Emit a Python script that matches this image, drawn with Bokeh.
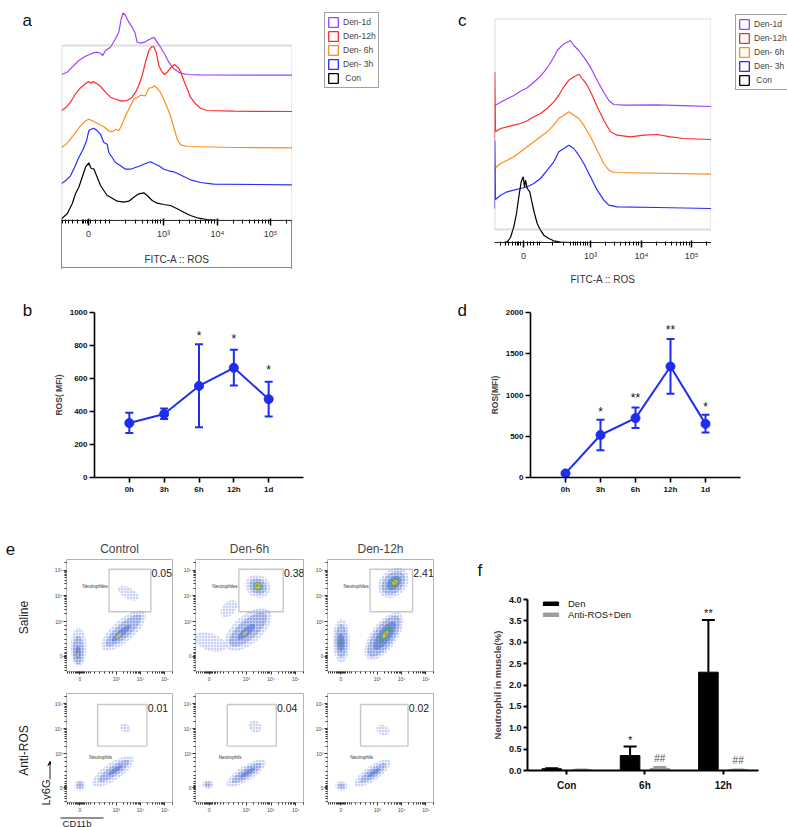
import numpy as np
from bokeh.plotting import figure
from bokeh.models import (ColumnDataSource, FixedTicker, Label, BoxAnnotation,
                          Legend, LegendItem, Range1d, Arrow, VeeHead, Whisker,
                          TeeHead, PrintfTickFormatter)
from bokeh.layouts import row, column
from bokeh.embed import file_html
from bokeh.resources import INLINE
from bokeh.core.properties import value

FONT = "Liberation Sans"

# ---------------- panel a : histograms (channel, height above own baseline) ----
A_NAMES = ["Den-1d", "Den-12h", "Den- 6h", "Den- 3h", " Con"]
A_1D_X = [0, 5.7, 10.7, 17.3, 24, 30.7, 35.7, 39, 41.3, 44, 49, 54, 57.3, 59.7, 61.7, 64, 67.3, 70.7, 73.3, 75.7,
          79, 83, 87.3, 92.3, 95.7, 99, 103, 107.3, 112.3, 119, 125.7, 139, 231]
A_1D_Y = [0, 2.3, 7.3, 14, 18.3, 21.3, 22.3, 21.3, 19, 24, 27.3, 35.7, 42.3, 55.7, 61.7, 59, 52.3, 47.3, 42.3, 32.3,
          31.3, 32.3, 34.7, 37.3, 32.3, 27.3, 20.7, 12.3, 5.7, 1.3, 0, -0.3, -0.7]
A_12H_X = [0, 4, 9, 14, 19, 24, 27.3, 29.7, 31.7, 35.7, 39, 44, 49, 55.7, 60.7, 65.7, 70.7, 74, 77.3, 80.7,
           84, 87.3, 89.7, 92.3, 94.7, 97.3, 100.7, 103, 105.7, 109.7, 113, 116.3, 119, 122.3, 125.7, 129, 134, 139,
           145.7, 172.3, 231]
A_12H_Y = [0, 2.7, 8.3, 16.7, 22.7, 26.7, 29, 27.3, 29, 26.7, 24, 18.3, 13.3, 10.7, 9.3, 10, 13.3, 18.3, 25, 35,
           48.3, 60, 63.3, 64, 58.3, 45, 38.3, 36, 38.3, 43.3, 46, 43.3, 39.3, 30, 21.7, 13.3, 6.7, 2.3, 0, -0.7, -1]
A_6H_X = [0, 4, 9, 14, 19, 24, 27.3, 32.3, 37.3, 42.3, 47.3, 50.7, 54, 57.3, 60.7, 64, 69, 72.3, 75.7, 79,
          84, 87.3, 90.7, 93, 95.7, 99, 102.3, 105.7, 109, 112.3, 115.7, 119, 125.7, 172.3, 231]
A_6H_Y = [0, 2.7, 8.3, 15, 21.7, 26.7, 28.3, 26, 23.3, 20.7, 16.7, 15.7, 18.3, 16.7, 23.3, 31.7, 41.7, 48.3, 50, 52.3,
          51.7, 59.3, 60, 61.7, 59.3, 55, 48.3, 40, 31.7, 20, 8.3, 2.7, 1, 0, -0.3]
A_3H_X = [0, 4, 9, 13, 17.3, 21.7, 25, 27.3, 29.7, 32.3, 35.7, 39, 42.3, 45.7, 47.3, 50.7, 54, 59, 64, 69,
          74, 79, 84, 89, 92.3, 97.3, 102.3, 107.3, 112.3, 120.7, 129, 139, 152.3, 231]
A_3H_Y = [0, 2.7, 7.7, 16, 26, 34.3, 42.7, 52.7, 54.3, 55.3, 52.7, 49.3, 41, 39.3, 31, 26, 21, 17.7, 14.3, 14.3,
          16, 17.7, 20, 21.7, 20, 17.7, 14.3, 12.7, 11.7, 7.7, 3.7, 1, -0.7, -1.3]
A_CON_X = [0, 5.7, 10.7, 14, 17.3, 20.7, 24, 27.3, 29.7, 32.3, 35.7, 39, 42.3, 45.7, 49, 55.7, 62.3, 67.3, 72.3, 77.3,
           82.3, 85.7, 90.7, 95.7, 102.3, 109, 115.7, 122.3, 129, 135.7, 145.7, 159, 231]
A_CON_Y = [1.7, 6.7, 16.7, 26.7, 33.3, 43.3, 53.3, 57.7, 52, 51.7, 43.3, 35, 30, 25, 23.3, 19.3, 18.3, 19.3, 23.3, 26.7,
           27.7, 25, 20, 17.3, 16, 15, 11.7, 8.3, 5, 2.7, 1, 0, 0]
A_MAJOR = [27, 102, 156, 209]
A_MAJOR_LABELS = ["0", "10\u00b3", "10\u2074", "10\u2075"]
A_MINOR_LOW = [0.7, 4, 7.3, 10.7, 15.7, 20.7, 22.3, 24, 25.7, 29, 34, 39, 44, 48.3, 64, 74, 80.7, 85.7, 90.7, 94, 96.3, 99]

# ---------------- panel c ----------------
C_1D_X = [0, 0.3, 6, 12.7, 19.3, 26, 32.7, 39.3, 44.3, 49.3, 54.3, 59.3, 62.7, 66, 69.3, 72.7, 76, 79.3, 84.3, 89.3, 96,
          102.7, 109.3, 114.3, 119.3, 129.3, 162.7, 196, 217]
C_1D_Y = [0, 1, 4.3, 7.7, 11, 15.3, 18.7, 24.3, 28.7, 34.3, 41, 49.3, 56, 59.3, 62.7, 64.3, 66, 61, 56, 49.3, 39.3,
          26, 14.3, 6, 2, 1.3, 1.7, 0.7, 0]
C_12H_X = [0, 0.3, 1, 6, 12.7, 19.3, 26, 32.7, 39.3, 46, 52.7, 59.3, 64.3, 69.3, 74.3, 79.3, 84.3, 87.7, 92.7, 97.7,
           102.7, 109.3, 116, 122.7, 136, 149.3, 162.7, 176, 189.3, 217]
C_12H_Y = [0, 67.7, 7.7, 11, 12.7, 14.3, 16, 18.7, 22.7, 26, 31, 37.7, 44.3, 52.7, 59.3, 62.7, 65.3, 61, 54.3, 44.3,
           32.7, 19.3, 7.7, 4.3, 2.7, 4.3, 5, 2.7, 1, 0]
C_6H_X = [0, 0.3, 6, 12.7, 19.3, 26, 32.7, 39.3, 46, 52.7, 59.3, 64.3, 69.3, 74.3, 79.3, 84.3, 89.3, 96, 102.7, 109.3,
          114.3, 119.3, 217]
C_6H_Y = [0, 5, 10, 13.3, 16.7, 21.7, 26.7, 31.7, 36.7, 41.7, 48.3, 55, 58.3, 61.7, 58.3, 55, 48.3, 36.7, 23.3, 10,
          3.3, 1, -0.7]
C_3H_X = [0, 0.3, 1, 6, 12.7, 19.3, 26, 32.7, 39.3, 46, 52.7, 59.3, 64.3, 69.3, 74.3, 79.3, 84.3, 89.3, 96, 102.7,
          109.3, 114.3, 122.7, 162.7, 217]
C_3H_Y = [0, 68.3, 9, 13.3, 16.7, 18.3, 20, 21.7, 25, 30, 38.3, 46.7, 56.7, 60, 63.3, 60, 53.3, 45, 31.7, 18.3,
          8.3, 3.3, 1.7, 1, 0]
C_CON_X = [9.3, 12.7, 16, 19.3, 22, 24.3, 26.7, 28.7, 30, 31, 32.7, 35.3, 37.7, 40, 42.7, 46, 49.3, 54.3, 59.3, 66, 76]
C_CON_Y = [0, 0.7, 5, 15.7, 29, 45.7, 60.7, 65.7, 55.7, 62.3, 54, 50.7, 39, 29, 19, 12.3, 7.3, 4, 1.7, 0.3, 0]
C_MAJOR = [29, 96, 147, 197]
C_MINOR_LOW = [6, 11, 14.3, 17.7, 21, 22.7, 24.3, 26, 32.7, 36, 39.3, 42.7, 45, 57.7, 69.3, 76, 78.7, 81, 83.3, 86,
               88.7, 91, 92.7]

# ---------------- panels b, d ----------------
TIME_CATS = ["0h", "3h", "6h", "12h", "1d"]
B_MEAN = [330, 385, 555, 665, 475]
B_LO = [270, 355, 305, 558, 370]
B_HI = [392, 418, 808, 775, 580]
B_SIG = ["", "", "*", "*", "*"]
B_SIG_Y = [0, 0, 860, 842, 652]
D_MEAN = [50, 515, 720, 1345, 650]
D_LO = [50, 330, 600, 1015, 545]
D_HI = [50, 700, 850, 1680, 760]
D_SIG = ["", "*", "**", "**", "*"]
D_SIG_Y = [0, 790, 960, 1785, 860]

# ---------------- panel e : flow plots (decade display units) ----------------
E_TITLES = ["Control", "Den-6h", "Den-12h"]
E_ROWS = ["Saline", "Anti-ROS"]
E_PCT = [["0.05", "0.38", "2.41"], ["0.01", "0.04", "0.02"]]
E_GATES = [[(2.70, 4.42, 3.38, 5.03), (2.70, 4.49, 3.38, 5.03), (2.70, 4.45, 3.38, 5.03)],
           [(2.23, 4.26, 3.31, 4.97), (2.23, 4.21, 3.31, 4.97), (2.31, 4.26, 3.31, 4.97)]]
E_GATE_NAMES = ["Neutrophiles", "Neutrophils"]
# event clouds: (x, y, width, height, angle_deg, density level)
E_SAL_CTRL = [(1.45, 2.0, 0.65, 1.5, 0, 0), (1.43, 1.9, 0.45, 1.1, 0, 1), (1.42, 1.8, 0.22, 0.5, 0, 2),
              (1.42, 1.7, 0.1, 0.2, 0, 4),
              (3.3, 2.65, 2.3, 0.85, 41, 0), (3.3, 2.65, 1.9, 0.55, 41, 1), (3.2, 2.55, 1.0, 0.25, 41, 2),
              (3.1, 2.45, 0.3, 0.1, 41, 4), (3.5, 4.1, 0.45, 0.9, 60, 0)]
E_SAL_6H = [(3.47, 4.37, 0.9, 1.0, 60, 0), (3.47, 4.37, 0.6, 0.7, 60, 1), (3.47, 4.37, 0.35, 0.4, 60, 3),
            (3.46, 4.38, 0.2, 0.22, 0, 4), (3.45, 4.4, 0.1, 0.1, 0, 5),
            (3.07, 2.69, 2.3, 1.1, 41, 0), (3.07, 2.69, 1.9, 0.75, 41, 1), (3.0, 2.6, 0.9, 0.3, 41, 2),
            (2.95, 2.55, 0.25, 0.1, 41, 4), (1.55, 2.2, 0.7, 1.3, 70, 0), (2.3, 3.5, 0.8, 0.5, 45, 0)]
E_SAL_12H = [(1.52, 2.25, 0.7, 1.7, 0, 0), (1.52, 2.25, 0.5, 1.3, 0, 1), (1.5, 2.2, 0.3, 0.7, 0, 2),
             (1.5, 2.2, 0.15, 0.3, 0, 3),
             (3.27, 2.43, 2.3, 1.0, 54, 0), (3.27, 2.43, 2.0, 0.78, 54, 1), (3.3, 2.45, 1.4, 0.5, 54, 2),
             (3.33, 2.5, 0.8, 0.28, 54, 3), (3.33, 2.5, 0.35, 0.14, 54, 4), (3.35, 2.52, 0.12, 0.06, 54, 5),
             (3.66, 4.5, 1.4, 1.0, 45, 0), (3.66, 4.5, 1.1, 0.75, 45, 1), (3.68, 4.5, 0.7, 0.45, 45, 2),
             (3.7, 4.52, 0.45, 0.28, 45, 3), (3.72, 4.52, 0.25, 0.16, 45, 4), (3.72, 4.53, 0.1, 0.07, 45, 5)]
E_ANTI_CTRL = [(1.5, 1.75, 0.45, 0.45, 0, 0), (1.5, 1.75, 0.25, 0.25, 0, 1), (2.86, 2.3, 2.0, 0.7, 34, 0),
               (2.9, 2.32, 1.5, 0.4, 34, 1), (2.95, 2.35, 0.7, 0.18, 34, 2), (3.37, 4.03, 0.35, 0.45, 60, 0)]
E_ANTI_6H = [(1.45, 1.78, 0.45, 0.35, 0, 0), (1.45, 1.78, 0.25, 0.2, 0, 1), (3.0, 2.23, 1.85, 0.6, 32, 0),
             (3.02, 2.24, 1.4, 0.38, 32, 1), (3.05, 2.25, 0.7, 0.18, 32, 2), (3.36, 4.09, 0.45, 0.55, 60, 0)]
E_ANTI_12H = [(1.52, 1.72, 0.5, 0.4, 0, 0), (1.52, 1.72, 0.28, 0.22, 0, 1), (2.8, 2.23, 1.75, 0.6, 35, 0),
              (2.82, 2.24, 1.3, 0.36, 35, 1), (2.85, 2.25, 0.6, 0.16, 35, 2), (3.23, 3.96, 0.4, 0.55, 70, 0)]
E_X_MAJOR = [1.5, 3, 4, 5]
E_Y_MAJOR = [1.65, 3, 4, 5]
E_MAJOR_LABELS = ["0", "10\u00b3", "10\u2074", "10\u2075"]

# ---------------- panel f ----------------
F_CATS = ["Con", "6h", "12h"]
F_DEN = [0.04, 0.35, 2.30]
F_DEN_ERR = [0.01, 0.21, 1.22]
F_ANTI = [0.02, 0.05, 0.02]
F_ANTI_ERR = [0.005, 0.03, 0.005]
F_DEN_SIG = ["", "*", "**"]
F_DEN_SIG_Y = [0, 0.72, 3.68]
F_ANTI_SIG = ["", "##", "##"]
F_ANTI_SIG_Y = [0, 0.29, 0.23]

HIST_COLORS = ["#a040ff", "#ff2a2a", "#ff8c1a", "#2a2aff", "#000000"]
BLUE = "#1f2df0"
LEVEL_COLORS = ["#c0cdf2", "#7c94e0", "#4063cd", "#45a35e", "#e3cf35", "#e2572a"]
LEVEL_ALPHA = [0.25, 0.4, 0.5, 0.6, 0.75, 0.85]
LEVEL_HATCH = ["dot", "dot", "blank", "blank", "blank", "blank"]
BOX_GRAY = "#8a8a8a"


def fig(**kw):
    p = figure(output_backend="svg", toolbar_location=None, **kw)
    p.frame_align = False
    p.grid.visible = False
    return p


def blank(w, h):
    """A frame-only figure (pixel coordinates, y downward) used for free-standing texts."""
    p = fig(width=w, height=h, x_range=Range1d(0, w), y_range=Range1d(h, 0),
            x_axis_location=None, y_axis_location=None,
            min_border_left=0, min_border_right=0, min_border_top=0, min_border_bottom=0)
    p.outline_line_color = None
    return p


def letter(p, txt, x, y, align="center"):
    p.add_layout(Label(x=x, y=y, text=txt, text_font=FONT, text_font_size="17px",
                       text_align=align, text_baseline="middle", text_color="#111"))


def letter_fig(w, h, txt, x, y, align="center"):
    p = blank(w, h)
    letter(p, txt, x, y, align)
    return p


def log_minor(start, dec, n_dec, xmax):
    out = []
    for d in range(n_dec):
        for k in range(2, 10):
            v = start + dec * d + dec * np.log10(k)
            if v < xmax:
                out.append(float(v))
    return out


def legend_fig(w, h, loc):
    p = blank(w, h)
    items = []
    nan = [float("nan")]
    for col, nm in zip(HIST_COLORS, A_NAMES):
        r = p.quad(left=nan, right=nan, top=nan, bottom=nan, fill_color=None, line_color=col, line_width=1.3)
        items.append(LegendItem(label=nm, renderers=[r]))
    p.add_layout(Legend(items=items, location=loc, glyph_width=12, glyph_height=12, label_height=14,
                        label_standoff=4, padding=2, spacing=0, margin=0, border_line_color="#444",
                        label_text_font=FONT, label_text_font_size="8.5px", background_fill_color="white"))
    return p


def hist_panel(width, height, bt, bb, xmax, ymax, series, offsets, major, minor, title_standoff, styles=None):
    kw = dict(styles=styles) if styles else {}
    p = fig(width=width, height=height, x_range=Range1d(0, xmax), y_range=Range1d(0, ymax),
            y_axis_location=None,
            min_border_left=0, min_border_right=0, min_border_top=bt, min_border_bottom=bb, **kw)
    p.outline_line_color = None
    for (xs, hs), off, col in zip(series, offsets, HIST_COLORS):
        p.line(xs, np.asarray(hs, dtype=float) + off, line_color=col, line_width=1.2)
    ax = p.xaxis[0]
    ax.ticker = FixedTicker(ticks=major, minor_ticks=minor)
    ax.major_label_overrides = dict(zip(major, A_MAJOR_LABELS))
    ax.axis_line_color = "#222"
    ax.major_tick_out = 5
    ax.major_tick_in = 2
    ax.minor_tick_out = 3
    ax.minor_tick_in = 1
    ax.major_tick_line_width = 1.5
    ax.major_label_text_font = FONT
    ax.major_label_text_font_size = "9px"
    ax.major_label_text_color = "#333"
    ax.major_label_standoff = 3
    ax.axis_label = "FITC-A :: ROS"
    ax.axis_label_text_font = FONT
    ax.axis_label_text_font_style = "normal"
    ax.axis_label_text_font_size = "10px"
    ax.axis_label_text_color = "#333"
    ax.axis_label_standoff = title_standoff
    return p


# ----- row 1 -----
G = "linear-gradient(%s,%s)" % (BOX_GRAY, BOX_GRAY)
a_styles = {"background-image": ", ".join([G, G, G]),
            "background-size": "1px 50px, 1px 50px, 231px 1px",
            "background-position": "0px 219px, 230px 219px, 0px 267px",
            "background-repeat": "no-repeat"}
fa = hist_panel(231, 290, 10, 70, 231, 210,
                [(A_1D_X, A_1D_Y), (A_12H_X, A_12H_Y), (A_6H_X, A_6H_Y), (A_3H_X, A_3H_Y), (A_CON_X, A_CON_Y)],
                [146, 110, 73, 37, 0], A_MAJOR, A_MINOR_LOW + log_minor(102, 53.5, 3, 231), 12, a_styles)
fa.border_fill_color = None
fa.add_layout(BoxAnnotation(left=0, right=231, top=175, bottom=0, fill_color=None,
                            line_color=BOX_GRAY, line_width=2))
fc = hist_panel(217, 290, 18, 48, 217, 224,
                [(C_1D_X, C_1D_Y), (C_12H_X, C_12H_Y), (C_6H_X, C_6H_Y), (C_3H_X, C_3H_Y), (C_CON_X, C_CON_Y)],
                [136, 103, 69, 34, 0], C_MAJOR, C_MINOR_LOW + log_minor(96, 50.5, 3, 217), 10)
fc.add_layout(BoxAnnotation(left=0, right=217, top=224, bottom=13, fill_color=None,
                            line_color=BOX_GRAY, line_width=2))
row1 = row(letter_fig(61, 290, "a", 26.7, 20), fa, legend_fig(98, 290, (32, 202)),
           letter_fig(104, 290, "c", 71.7, 20), fc, legend_fig(76, 290, (24, 200)))


# ----- row 2 -----
def line_panel(width, bl, br, ymax, yticks, mean, lo, hi, sig, sig_y, ylabel):
    p = fig(width=width, height=210, x_range=Range1d(0, 6), y_range=Range1d(0, ymax),
            min_border_left=bl, min_border_right=br, min_border_top=22, min_border_bottom=23)
    p.outline_line_color = None
    xs = list(range(1, len(TIME_CATS) + 1))
    src = ColumnDataSource(dict(x=xs, lo=lo, hi=hi))
    p.add_layout(Whisker(source=src, base="x", lower="lo", upper="hi", line_color=BLUE, line_width=2,
                         upper_head=TeeHead(size=8, line_color=BLUE, line_width=2),
                         lower_head=TeeHead(size=8, line_color=BLUE, line_width=2)))
    p.line(xs, mean, line_color=BLUE, line_width=2)
    p.scatter(xs, mean, size=9, fill_color=BLUE, line_color=BLUE)
    p.text(x=xs, y=sig_y, text=sig, text_font=value(FONT), text_font_size="12px",
           text_align="center", text_baseline="middle", text_color="#111")
    p.xaxis.ticker = FixedTicker(ticks=xs)
    p.xaxis.major_label_overrides = dict(zip(xs, TIME_CATS))
    p.yaxis.ticker = FixedTicker(ticks=yticks)
    for ax in (p.xaxis[0], p.yaxis[0]):
        ax.axis_line_width = 1.6
        ax.major_tick_line_width = 1.6
        ax.major_tick_out = 5
        ax.major_tick_in = 0
        ax.minor_tick_line_color = None
        ax.major_label_text_font = FONT
        ax.major_label_text_font_style = "bold"
        ax.major_label_text_font_size = "8px"
        ax.major_label_text_color = "#111"
        ax.major_label_standoff = 2
    p.yaxis.axis_label = ylabel
    p.yaxis.axis_label_text_font = FONT
    p.yaxis.axis_label_text_font_style = "bold"
    p.yaxis.axis_label_text_font_size = "8.5px"
    p.yaxis.axis_label_standoff = 3
    return p


fb = line_panel(340, 43, 87, 1000, [0, 200, 400, 600, 800, 1000], B_MEAN, B_LO, B_HI, B_SIG, B_SIG_Y, "ROS( MFI)")
fd = line_panel(307, 50, 47, 2000, [0, 500, 1000, 1500, 2000], D_MEAN, D_LO, D_HI, D_SIG, D_SIG_Y, "ROS(MFI)")
row2 = row(letter_fig(50, 210, "b", 27, 20), fb, letter_fig(90, 210, "d", 71.7, 20), fd)


# ----- row 3 : panel e -----
def flow_panel(width, height, bl, br, bt, bb, clusters, gate, pct, gname, top_row, title=None):
    p = fig(width=width, height=height, x_range=Range1d(0.95, 5.31), y_range=Range1d(1.06, 5.41),
            title=title, min_border_left=bl, min_border_right=br, min_border_top=bt, min_border_bottom=bb)
    p.outline_line_color = "#b4b4b4"
    cl = sorted(clusters, key=lambda c: c[5])
    p.ellipse(x=[c[0] for c in cl], y=[c[1] for c in cl], width=[c[2] for c in cl],
              height=[c[3] for c in cl], angle=[c[4] for c in cl], angle_units="deg",
              fill_color=[LEVEL_COLORS[c[5]] for c in cl], fill_alpha=[LEVEL_ALPHA[c[5]] for c in cl],
              hatch_pattern=[LEVEL_HATCH[c[5]] for c in cl], hatch_color="#2f50c4", hatch_alpha=0.5,
              hatch_scale=3, hatch_weight=0.8, line_color=None)
    p.add_layout(BoxAnnotation(left=gate[0], right=gate[1], bottom=gate[2], top=gate[3],
                               fill_color=None, line_color="#4a4a4a", line_width=1.4))
    p.add_layout(Label(x=gate[1] + 0.03, y=gate[3] + 0.02, text=pct, text_font=FONT, text_font_size="10.5px",
                       text_baseline="top", text_align="left", text_color="#222"))
    if top_row:
        p.add_layout(Label(x=gate[0] - 0.05, y=4.36, text=gname, text_font=FONT, text_font_size="4.5px",
                           text_baseline="middle", text_align="right", text_color="#333"))
    else:
        p.add_layout(Label(x=2.35, y=2.85, text=gname, text_font=FONT, text_font_size="4.5px",
                           text_baseline="middle", text_align="center", text_color="#333"))
    xminor = [1.0, 1.08, 1.16, 1.24, 1.3, 1.36, 1.4, 1.44, 1.47, 1.53, 1.56, 1.6, 1.64, 1.7, 1.76, 1.84, 1.95,
              2.1, 2.3, 2.5, 2.7, 2.85] + log_minor(3, 1, 3, 5.31)
    yminor = [1.1, 1.2, 1.3, 1.4, 1.5, 1.56, 1.6, 1.62, 1.68, 1.7, 1.74, 1.8, 1.9, 2.0, 2.15, 2.3, 2.5, 2.7,
              2.85] + log_minor(3, 1, 3, 5.41)
    p.xaxis.ticker = FixedTicker(ticks=E_X_MAJOR, minor_ticks=xminor)
    p.yaxis.ticker = FixedTicker(ticks=E_Y_MAJOR, minor_ticks=yminor)
    p.xaxis.major_label_overrides = dict(zip(E_X_MAJOR, E_MAJOR_LABELS))
    p.yaxis.major_label_overrides = dict(zip(E_Y_MAJOR, E_MAJOR_LABELS))
    for ax in (p.xaxis[0], p.yaxis[0]):
        ax.axis_line_color = None
        ax.major_tick_out = 3
        ax.major_tick_in = 0
        ax.minor_tick_out = 2
        ax.minor_tick_in = 0
        ax.major_tick_line_color = "#333"
        ax.minor_tick_line_color = "#333"
        ax.major_label_text_font = FONT
        ax.major_label_text_font_size = "5px"
        ax.major_label_text_color = "#444"
        ax.major_label_standoff = 1
    if title:
        p.title.text_font = FONT
        p.title.text_font_size = "12px"
        p.title.text_font_style = "normal"
        p.title.align = "center"
        p.title.standoff = 7
    return p


TOP_CL = [E_SAL_CTRL, E_SAL_6H, E_SAL_12H]
BOT_CL = [E_ANTI_CTRL, E_ANTI_6H, E_ANTI_12H]
COL_W = [(129, 9, 8), (132, 12, 9), (130, 10, 9)]
tops, bots = [], []
for i in range(3):
    w, bl, br = COL_W[i]
    tops.append(flow_panel(w, 184, bl, br, 59, 9, TOP_CL[i], E_GATES[0][i], E_PCT[0][i], E_GATE_NAMES[0], True,
                           title=E_TITLES[i]))
    bots.append(flow_panel(w, 131, bl, br, 9, 10, BOT_CL[i], E_GATES[1][i], E_PCT[1][i], E_GATE_NAMES[1], False))

le = blank(51, 327)
letter(le, "e", 10, 48)
le.add_layout(Label(x=23, y=117, text=E_ROWS[0], angle=np.pi / 2, text_font=FONT, text_font_size="12px",
                    text_align="center", text_baseline="middle", text_color="#222"))
le.add_layout(Label(x=23, y=250, text=E_ROWS[1], angle=np.pi / 2, text_font=FONT, text_font_size="12px",
                    text_align="center", text_baseline="middle", text_color="#222"))
le.add_layout(Label(x=45, y=292, text="Ly6G", angle=np.pi / 2, text_font=FONT, text_font_size="11px",
                    text_align="center", text_baseline="middle", text_color="#222"))
le.add_layout(Arrow(x_start=49.5, y_start=279, x_end=49.5, y_end=261, end=VeeHead(size=4, line_width=1),
                    line_width=1, line_color="#222"))
cdh = blank(391, 12)
cdh.add_layout(Arrow(x_start=9, y_start=2.5, x_end=52, y_end=2.5, end=None, line_width=1, line_color="#222"))
cdh.add_layout(Label(x=25.5, y=7.5, text="CD11b", text_font=FONT, text_font_size="9.5px",
                     text_align="center", text_baseline="middle", text_color="#222"))
col_e = column(row(*tops), row(*bots), cdh)

# ----- row 3 : panel f -----
pf = fig(width=345, height=235, x_range=Range1d(-0.5, 2.45), y_range=Range1d(0, 4),
         min_border_left=85, min_border_right=29, min_border_top=7, min_border_bottom=57)
pf.outline_line_color = None
fidx = np.arange(len(F_CATS))
DODGE = 0.19
den_x = fidx - DODGE
anti_x = fidx + DODGE
r_den = pf.vbar(x=den_x, top=F_DEN, width=0.25, fill_color="black", line_color="black")
r_anti = pf.vbar(x=anti_x, top=F_ANTI, width=0.25, fill_color="#9c9c9c", line_color="#9c9c9c")
pf.add_layout(Whisker(source=ColumnDataSource(dict(b=den_x, lo=F_DEN, hi=np.add(F_DEN, F_DEN_ERR))),
                      base="b", lower="lo", upper="hi", line_color="black", line_width=2, lower_head=None,
                      upper_head=TeeHead(size=13, line_color="black", line_width=2)))
pf.add_layout(Whisker(source=ColumnDataSource(dict(b=anti_x, lo=F_ANTI, hi=np.add(F_ANTI, F_ANTI_ERR))),
                      base="b", lower="lo", upper="hi", line_color="#9c9c9c", line_width=2, lower_head=None,
                      upper_head=TeeHead(size=13, line_color="#9c9c9c", line_width=2)))
pf.text(x=den_x, y=F_DEN_SIG_Y, text=F_DEN_SIG, text_font=value(FONT), text_font_size="11px",
        text_align="center", text_baseline="middle", text_color="#111")
pf.text(x=anti_x, y=F_ANTI_SIG_Y, text=F_ANTI_SIG, text_font=value(FONT), text_font_size="10px",
        text_align="center", text_baseline="middle", text_color="#555")
fleg = Legend(items=[LegendItem(label="Den", renderers=[r_den]),
                     LegendItem(label="Anti-ROS+Den", renderers=[r_anti])],
              location=(14, 150), glyph_width=19, glyph_height=5, label_height=10, label_standoff=8,
              padding=0, margin=0, spacing=-1, border_line_color=None, background_fill_alpha=0,
              label_text_font=FONT, label_text_font_size="9.5px", label_text_color="#222")
pf.add_layout(fleg)
pf.xaxis.ticker = FixedTicker(ticks=list(fidx))
pf.xaxis.major_label_overrides = {int(i): c for i, c in zip(fidx, F_CATS)}
pf.yaxis.ticker = FixedTicker(ticks=[0, 0.5, 1, 1.5, 2, 2.5, 3, 3.5, 4])
pf.yaxis.formatter = PrintfTickFormatter(format="%.1f")
for ax in (pf.xaxis[0], pf.yaxis[0]):
    ax.axis_line_width = 2
    ax.major_tick_line_width = 2
    ax.major_tick_out = 4
    ax.major_tick_in = 0
    ax.minor_tick_line_color = None
    ax.major_label_text_font = FONT
    ax.major_label_text_font_style = "bold"
    ax.major_label_text_font_size = "9px"
    ax.major_label_text_color = "#111"
    ax.major_label_standoff = 2
pf.xaxis.major_label_text_font_size = "10px"
pf.xaxis.major_label_standoff = 5
pf.yaxis.axis_label = "Neutrophil in muscle(%)"
pf.yaxis.axis_label_text_font = FONT
pf.yaxis.axis_label_text_font_style = "bold"
pf.yaxis.axis_label_text_font_size = "9.5px"
pf.yaxis.axis_label_standoff = 3
col_f = column(letter_fig(345, 92, "f", 37.3, 70), pf)

row3 = row(le, col_e, col_f)
layout = column(row1, row2, row3)
open("out.html", "w").write(file_html(layout, INLINE))
